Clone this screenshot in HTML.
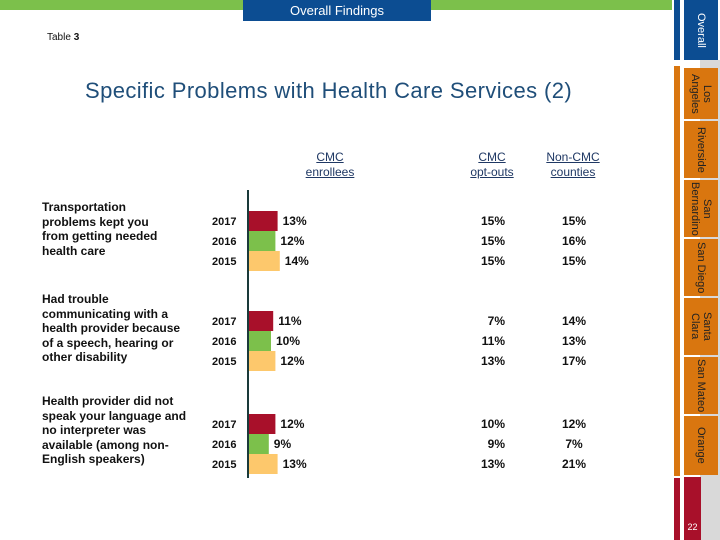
<!DOCTYPE html>
<html><head><meta charset="utf-8">
<style>
body{margin:0;width:720px;height:540px;overflow:hidden;background:#fff;font-family:"Liberation Sans",sans-serif;position:relative}
.abs{position:absolute}
.q{font-size:12px;font-weight:bold;color:#111;line-height:14.5px;width:160px;left:42px;white-space:nowrap}
.hdr{font-size:12px;color:#1f3864;text-align:center;text-decoration:underline;line-height:15px}
.tab{position:absolute;left:684px;width:34px;background:#d9760f;color:#222;font-size:11px;writing-mode:vertical-rl;text-align:center;display:flex;align-items:center;justify-content:center;line-height:12px}
</style></head><body>
<div class="abs" style="left:0;top:0;width:672px;height:10px;background:#7cc04b"></div>
<div class="abs" style="left:243px;top:0;width:188px;height:21px;background:#0c4d92;color:#fff;font-size:13px;text-align:center;line-height:22px">Overall Findings</div>
<div class="abs" style="left:47px;top:32px;font-size:10px;color:#111">Table <b>3</b></div>
<div class="abs" style="left:85px;top:78px;font-size:22px;color:#1f4e79;letter-spacing:0.4px">Specific Problems with Health Care Services (2)</div>

<div class="abs" style="left:674px;top:0;width:6px;height:60px;background:#0c4d92"></div>
<div class="abs" style="left:674px;top:66px;width:6px;height:410px;background:#d9760f"></div>
<div class="abs" style="left:674px;top:478px;width:6px;height:62px;background:#a8102a"></div>
<div class="abs" style="left:700px;top:60px;width:20px;height:480px;background:#d9d9d9"></div>
<div class="tab" style="top:0;height:60px;background:#0c4d92;color:#fff">Overall</div>
<div class="tab" style="top:68px;height:51px">Los Angeles</div>
<div class="tab" style="top:121px;height:57px">Riverside</div>
<div class="tab" style="top:180px;height:57px">San Bernardino</div>
<div class="tab" style="top:239px;height:57px">San Diego</div>
<div class="tab" style="top:298px;height:57px">Santa Clara</div>
<div class="tab" style="top:357px;height:57px">San Mateo</div>
<div class="tab" style="top:416px;height:59px">Orange</div>
<div class="abs" style="left:684px;top:477px;width:17px;height:63px;background:#a8102a;color:#fff;font-size:9px;text-align:center;padding-top:45px;box-sizing:border-box">22</div>

<div class="abs hdr" style="left:280px;top:150px;width:100px">CMC<br>enrollees</div>
<div class="abs hdr" style="left:442px;top:150px;width:100px">CMC<br>opt-outs</div>
<div class="abs hdr" style="left:523px;top:150px;width:100px">Non-CMC<br>counties</div>

<div class="abs q" style="top:200px">Transportation<br>problems kept you<br>from getting needed<br>health care</div>
<div class="abs q" style="top:292px">Had trouble<br>communicating with a<br>health provider because<br>of a speech, hearing or<br>other disability</div>
<div class="abs q" style="top:394px">Health provider did not<br>speak your language and<br>no interpreter was<br>available (among non-<br>English speakers)</div>

<svg class="abs" style="left:0;top:0" width="720" height="540" id="chart"></svg>
<script>
const years=["2017","2016","2015"];
const enrollees=[[13,12,14],[11,10,12],[12,9,13]];
const optOuts=[[15,15,15],[7,11,13],[10,9,13]];
const nonCmc=[[15,16,15],[14,13,17],[12,7,21]];
const colors=["#a8102a","#7cc04b","#fdc86c"];
const groupTop=[211,311,414];
const rowH=20,x0=249,pxPer=2.2;
const xs=v=>x0+v*pxPer;
const svg=document.getElementById('chart');
const NS="http://www.w3.org/2000/svg";
function t(x,y,s,anchor,size,weight){const e=document.createElementNS(NS,'text');e.setAttribute('x',x);e.setAttribute('y',y);e.setAttribute('text-anchor',anchor);e.setAttribute('font-size',size);e.setAttribute('font-family','Liberation Sans, sans-serif');if(weight)e.setAttribute('font-weight',weight);e.setAttribute('fill','#111');e.textContent=s;svg.appendChild(e);return e;}
const ax=document.createElementNS(NS,'line');
ax.setAttribute('x1',x0-1);ax.setAttribute('x2',x0-1);ax.setAttribute('y1',190);ax.setAttribute('y2',478);ax.setAttribute('stroke','#1a3a3a');ax.setAttribute('stroke-width',2);


svg.appendChild(ax);
groupTop.forEach((gt,g)=>{
 years.forEach((yr,i)=>{
  const y=gt+i*rowH;
  const r=document.createElementNS(NS,'rect');
  r.setAttribute('x',x0);r.setAttribute('y',y);r.setAttribute('width',xs(enrollees[g][i])-x0);r.setAttribute('height',rowH);r.setAttribute('fill',colors[i]);
  
  
  svg.appendChild(r);
  const cy=y+rowH/2+4;
  const a=t(212,cy,yr,'start',11,'bold');
  
  
  const b=t(xs(enrollees[g][i])+5,cy,enrollees[g][i]+'%','start',12,'bold');
  
  
  const c=t(505,cy,optOuts[g][i]+'%','end',12,'bold');
  
  
  const d=t(574,cy,nonCmc[g][i]+'%','middle',12,'bold');
  
  
 });
});
</script>
</body></html>
